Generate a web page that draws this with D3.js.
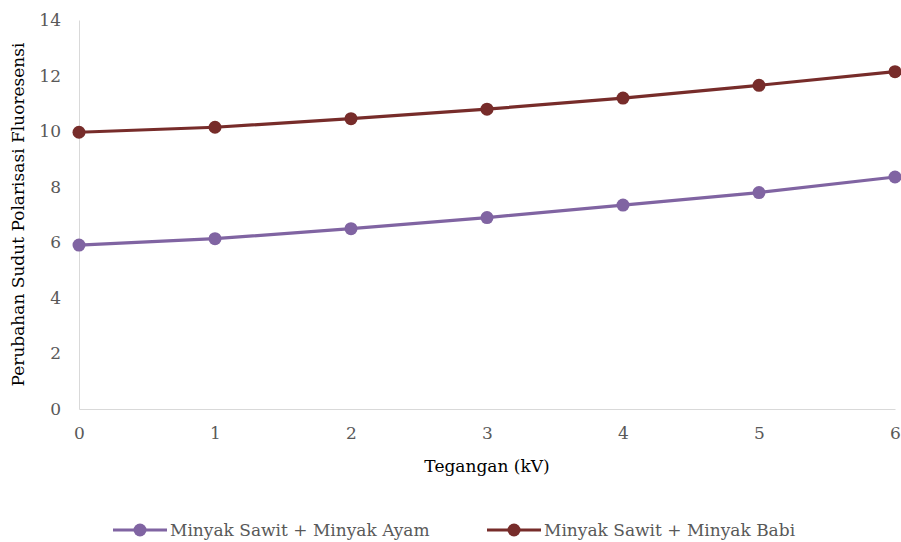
<!DOCTYPE html>
<html><head><meta charset="utf-8">
<script src="https://cdn.jsdelivr.net/npm/d3@7"></script>
<style>body{margin:0;background:#fff}svg{display:block}</style>
</head><body><svg id="c" width="901" height="542"></svg>
<script>
const xValues = [0, 1, 2, 3, 4, 5, 6];
const seriesNames = ["Minyak Sawit + Minyak Ayam", "Minyak Sawit + Minyak Babi"];
const ayam = [5.90, 6.13, 6.49, 6.89, 7.34, 7.79, 8.35];
const babi = [9.96, 10.14, 10.45, 10.79, 11.19, 11.65, 12.14];
const yTicks = [0, 2, 4, 6, 8, 10, 12, 14];
const xTitle = "Tegangan (kV)";
const yTitle = "Perubahan Sudut Polarisasi Fluoresensi";
const colors = ["#8064A2", "#772C2A"];

const FONT = "'DejaVu Serif', serif";
const FS = 17;
const svg = d3.select("#c").attr("font-family", FONT);
const m = {l: 79, r: 6, t: 20, b: 133};
const W = 901, H = 542;
const x = d3.scaleLinear().domain([0, 6]).range([m.l, W - m.r]);
const y = d3.scaleLinear().domain([0, 14]).range([H - m.b, m.t]);

// axes
const gy = svg.append("g").attr("transform", `translate(${m.l},0)`)
  .call(d3.axisLeft(y).tickValues(yTicks).tickSize(0).tickPadding(18));
gy.attr("font-family", FONT).attr("font-size", FS);
gy.select(".domain").attr("stroke", "#D9D9D9").attr("stroke-width", 1);
gy.selectAll("text").attr("fill", "#595959");

const gx = svg.append("g").attr("transform", `translate(0,${y(0)})`)
  .call(d3.axisBottom(x).tickValues(xValues).tickFormat(d3.format("d")).tickSize(0).tickPadding(18));
gx.attr("font-family", FONT).attr("font-size", FS);
gx.select(".domain").attr("stroke", "#D9D9D9").attr("stroke-width", 1);
gx.selectAll("text").attr("fill", "#595959");

// titles
svg.append("text").attr("x", (m.l + W - m.r) / 2).attr("y", 472).attr("text-anchor", "middle")
  .attr("font-size", FS).attr("fill", "#000").text(xTitle);
svg.append("text").attr("transform", `translate(24,${(m.t + H - m.b) / 2}) rotate(-90)`)
  .attr("text-anchor", "middle").attr("font-size", FS).attr("fill", "#000").text(yTitle);

// series
const data = [ayam, babi];
const line = d3.line().x((d, i) => x(xValues[i])).y(d => y(d));
data.forEach((s, k) => {
  svg.append("path").datum(s).attr("d", line).attr("fill", "none")
    .attr("stroke", colors[k]).attr("stroke-width", 3.2).attr("stroke-linejoin", "round");
  svg.selectAll(null).data(s).enter().append("circle")
    .attr("cx", (d, i) => x(xValues[i])).attr("cy", d => y(d)).attr("r", 6.5)
    .attr("fill", colors[k]);
});

// legend
const legX = [113, 487];
seriesNames.forEach((n, k) => {
  const g = svg.append("g").attr("transform", `translate(${legX[k]},530)`);
  g.append("line").attr("x1", 0).attr("x2", 54).attr("y1", 0).attr("y2", 0)
    .attr("stroke", colors[k]).attr("stroke-width", 3.2);
  g.append("circle").attr("cx", 27).attr("cy", 0).attr("r", 6.5).attr("fill", colors[k]);
  g.append("text").attr("x", 57).attr("y", 6).attr("font-size", FS).attr("fill", "#595959").text(n);
});
</script></body></html>
